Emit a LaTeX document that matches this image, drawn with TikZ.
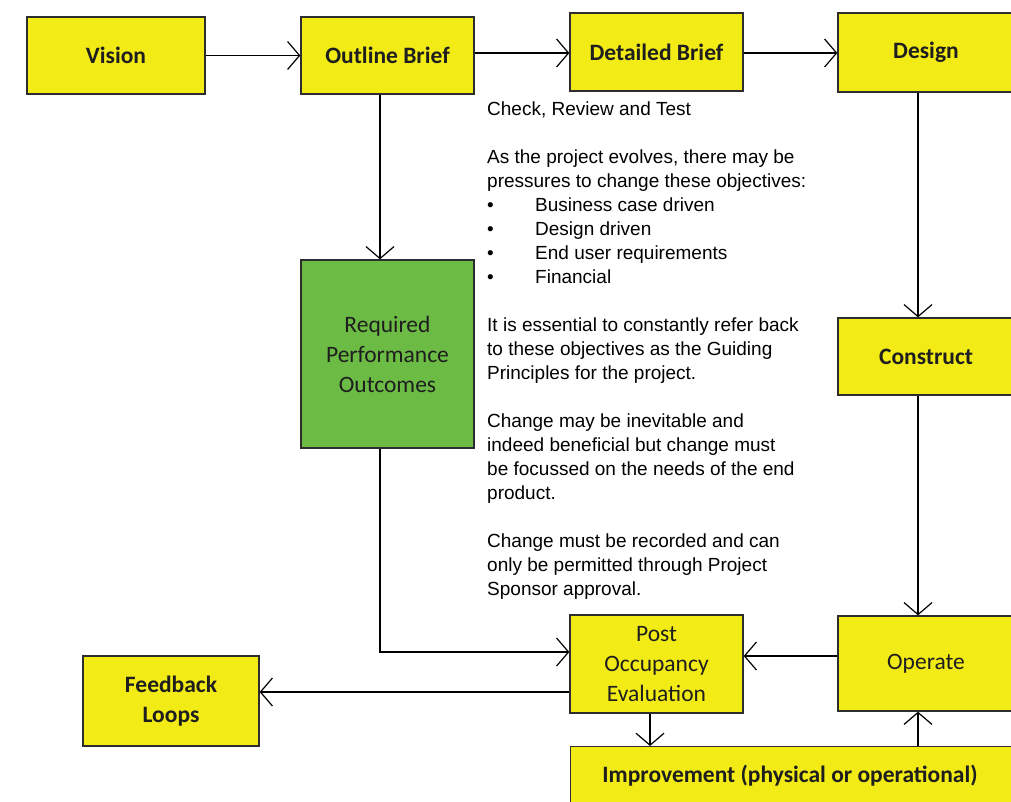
\documentclass[tikz,border=0pt]{standalone}
\usepackage{fontspec}
\setmainfont{Liberation Sans}
\newfontfamily\boxfont{Carlito}
\usetikzlibrary{arrows.meta}
\definecolor{boxyellow}{RGB}{242,235,22}
\definecolor{boxgreen}{RGB}{108,187,69}
\definecolor{boxline}{RGB}{45,45,45}
\definecolor{boxtext}{RGB}{30,30,30}
\begin{document}
\begin{tikzpicture}[x=1pt,y=-1pt,
  box/.style={draw=boxline,line width=1.3pt,fill=boxyellow,align=center,inner sep=0pt,
    text=boxtext,font=\boxfont\bfseries\fontsize{23.5}{30}\selectfont},
  plainbox/.style={box,font=\boxfont\fontsize{23.5}{30}\selectfont},
  conn/.style={draw=black,line width=1.1pt,-{Straight Barb[length=12pt,width=28pt,line width=1.2pt]}}
]
\useasboundingbox (0,0) rectangle (1011,801);
\clip (0,0) rectangle (1011,801);
\fill[white] (0,0) rectangle (1011,801);

\node[box,minimum width=178pt,minimum height=77pt] (vision) at (116,55.5) {Vision};
\node[box,minimum width=173pt,minimum height=77pt] (outline) at (387.5,55.5) {Outline Brief};
\node[box,minimum width=173pt,minimum height=78pt] (detailed) at (656.5,52) {Detailed Brief};
\node[box,minimum width=176pt,minimum height=79pt] (design) at (926,52.5) {\raisebox{-2pt}{Design}};
\node[plainbox,fill=boxgreen,minimum width=173pt,minimum height=188pt] (rpo) at (387.5,354) {Required\\Performance\\Outcomes};
\node[box,minimum width=176pt,minimum height=77pt] (construct) at (926,356.5) {Construct};
\node[plainbox,minimum width=176pt,minimum height=95pt] (operate) at (926,663.5) {Operate};
\node[plainbox,minimum width=173pt,minimum height=98pt] (poe) at (656.5,664) {Post\\Occupancy\\Evaluation};
\node[box,minimum width=176pt,minimum height=90pt] (feedback) at (171,701) {Feedback\\Loops};
\node[box,minimum width=445pt,minimum height=64pt,anchor=north west] (improve) at (570,746) {};
\node[text=boxtext,font=\boxfont\bfseries\fontsize{23.5}{30}\selectfont] (improvetext) at (790,776) {Improvement (physical or operational)};

\node[anchor=north west,inner sep=0pt,align=left,font=\fontsize{19}{24}\selectfont] (notes) at (487,102) {%
Check, Review and Test\\[24pt]
As the project evolves, there may be\\
pressures to change these objectives:\\
\makebox[48pt][l]{\textbullet}Business case driven\\
\makebox[48pt][l]{\textbullet}Design driven\\
\makebox[48pt][l]{\textbullet}End user requirements\\
\makebox[48pt][l]{\textbullet}Financial\\[24pt]
It is essential to constantly refer back\\
to these objectives as the Guiding\\
Principles for the project.\\[24pt]
Change may be inevitable and\\
indeed beneficial but change must\\
be focussed on the needs of the end\\
product.\\[24pt]
Change must be recorded and can\\
only be permitted through Project\\
Sponsor approval.};

\coordinate (colA) at (380,0);
\coordinate (colB) at (918,0);
\coordinate (colC) at (650,0);
\coordinate (rowA) at (0,53);
\coordinate (rowB) at (0,652);
\coordinate (rowC) at (0,656);
\coordinate (rowD) at (0,692);

\draw[conn] (vision) -- (outline);
\draw[conn] (outline.east |- rowA) -- (detailed.west |- rowA);
\draw[conn] (detailed.east |- rowA) -- (design.west |- rowA);
\draw[conn] (design.south -| colB) -- (construct.north -| colB);
\draw[conn] (construct.south -| colB) -- (operate.north -| colB);
\draw[conn] (outline.south -| colA) -- (rpo.north -| colA);
\draw[conn] (rpo.south -| colA) -- (colA |- rowB) -- (poe.west |- rowB);
\draw[conn] (operate.west |- rowC) -- (poe.east |- rowC);
\draw[conn] (poe.west |- rowD) -- (feedback.east |- rowD);
\draw[conn] (poe.south -| colC) -- (improve.north -| colC);
\draw[conn] (improve.north -| colB) -- (operate.south -| colB);
\end{tikzpicture}
\end{document}
